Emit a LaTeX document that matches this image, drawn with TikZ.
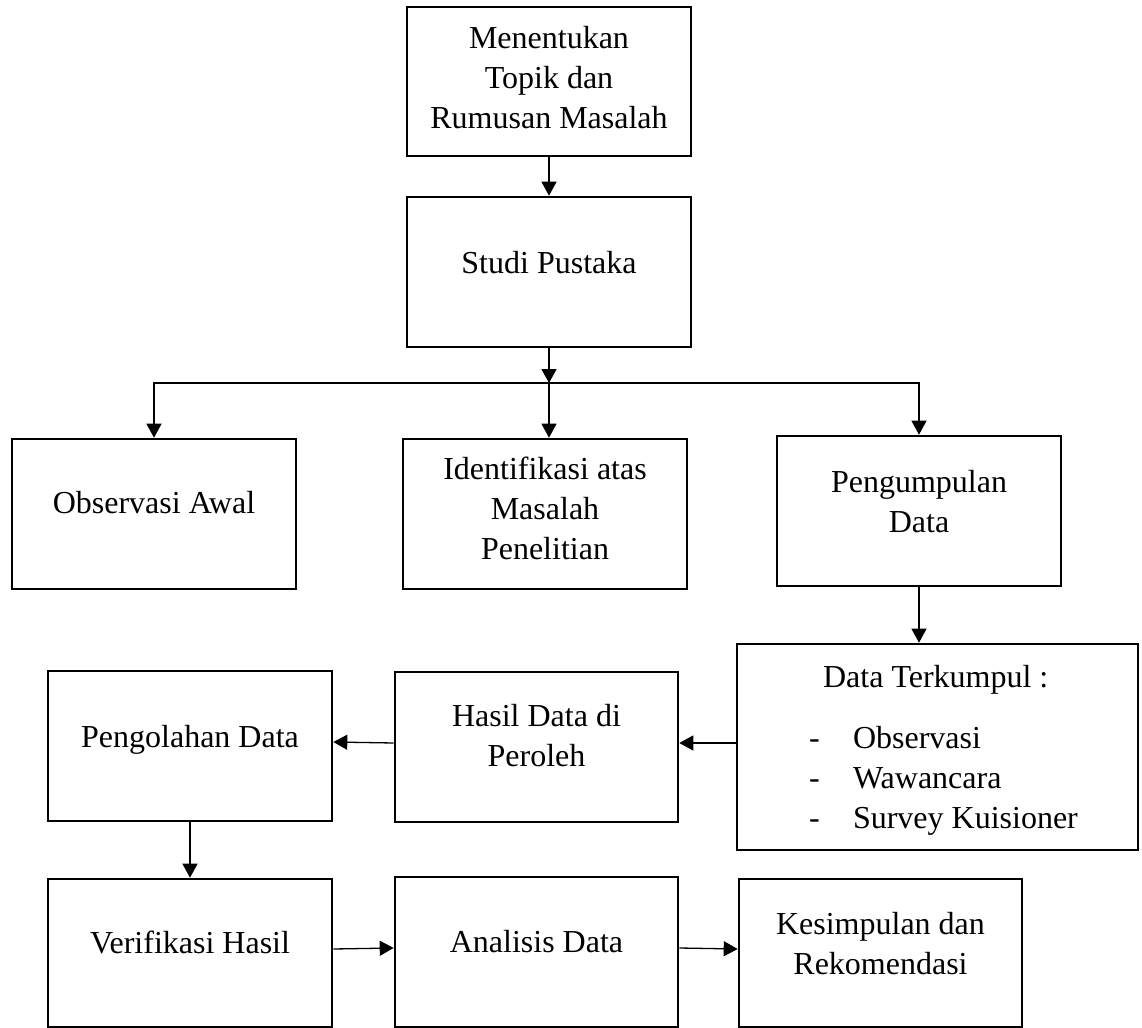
\documentclass[tikz,border=0pt]{standalone}
\usepackage{fontspec}
\setmainfont{Liberation Serif}
\usetikzlibrary{arrows.meta}
\newcommand\bxt[2][0pt]{\raisebox{#1}[0pt][0pt]{\begin{tabular}{@{}c@{}}#2\end{tabular}}}
\tikzset{
  box/.style={draw, line width=1.3pt, inner sep=0pt, minimum width=142pt, minimum height=75pt, font=\fontsize{16}{20}\selectfont},
  arr/.style={-{Triangle[length=7pt,width=7.5pt]}, line width=0.65pt},
}
\begin{document}
\begin{tikzpicture}[x=0.5pt,y=-0.5pt]
\useasboundingbox[fill=white] (0,0) rectangle (1142,1028);
\node[box, minimum height=74.5pt] (top) at (549,81.5) {\bxt[-4pt]{Menentukan\\Topik dan\\Rumusan Masalah}};
\node[box] (studi) at (549,272) {\bxt[-1pt]{Studi Pustaka}};
\node[box] (obs) at (154,514) {\bxt{Observasi Awal}};
\node[box] (ident) at (545,514) {\bxt[-3pt]{Identifikasi atas\\Masalah\\Penelitian}};
\node[box] (peng) at (919,511) {\bxt[-1pt]{Pengumpulan\\Data}};
\node[box, minimum width=200.5pt, minimum height=103pt] (data) at (937.5,747) {\raisebox{-5.75pt}[0pt][0pt]{\hspace*{6pt}\begin{tabular}{@{}l@{\hspace{16.65pt}}l@{}}\multicolumn{2}{@{}l@{}}{\hspace*{7pt}Data Terkumpul :}\\[10.5pt]
-&Observasi\\
-&Wawancara\\
-&Survey Kuisioner
\end{tabular}}};
\node[box, minimum width=141.5pt] (hasil) at (536.5,747) {\bxt{Hasil Data di\\Peroleh}};
\node[box] (pengol) at (190,746) {\bxt[-1pt]{Pengolahan Data}};
\node[box, minimum height=74pt] (verif) at (190,953) {\bxt[-0.5pt]{Verifikasi Hasil}};
\node[box, minimum width=141.5pt] (anal) at (536.5,952) {\bxt[-0.5pt]{Analisis Data}};
\node[box, minimum width=141.5pt, minimum height=74pt] (kes) at (880.5,953) {\bxt[-1pt]{Kesimpulan dan\\Rekomendasi}};
\coordinate (split) at (549,383);
\draw[arr] (top.south) -- (studi.north);
\draw[arr] (studi.south) -- (split);
\draw[arr] (split) -| (obs.north);
\draw[arr] (split) -- (split |- ident.north);
\draw[arr] (split) -| (peng.north);
\draw[arr] (peng.south) -- (peng.south |- data.north);
\draw[arr] ([yshift=2pt]data.west) -- ([yshift=2pt]hasil.east);
\draw[arr] ([yshift=2pt]hasil.west) -- ([yshift=2pt]pengol.east);
\draw[arr] (pengol.south) -- (verif.north);
\draw[arr] ([yshift=2pt]verif.east) -- ([yshift=2pt]anal.west);
\draw[arr] ([yshift=2pt]anal.east) -- ([yshift=2pt]kes.west);
\end{tikzpicture}
\end{document}
